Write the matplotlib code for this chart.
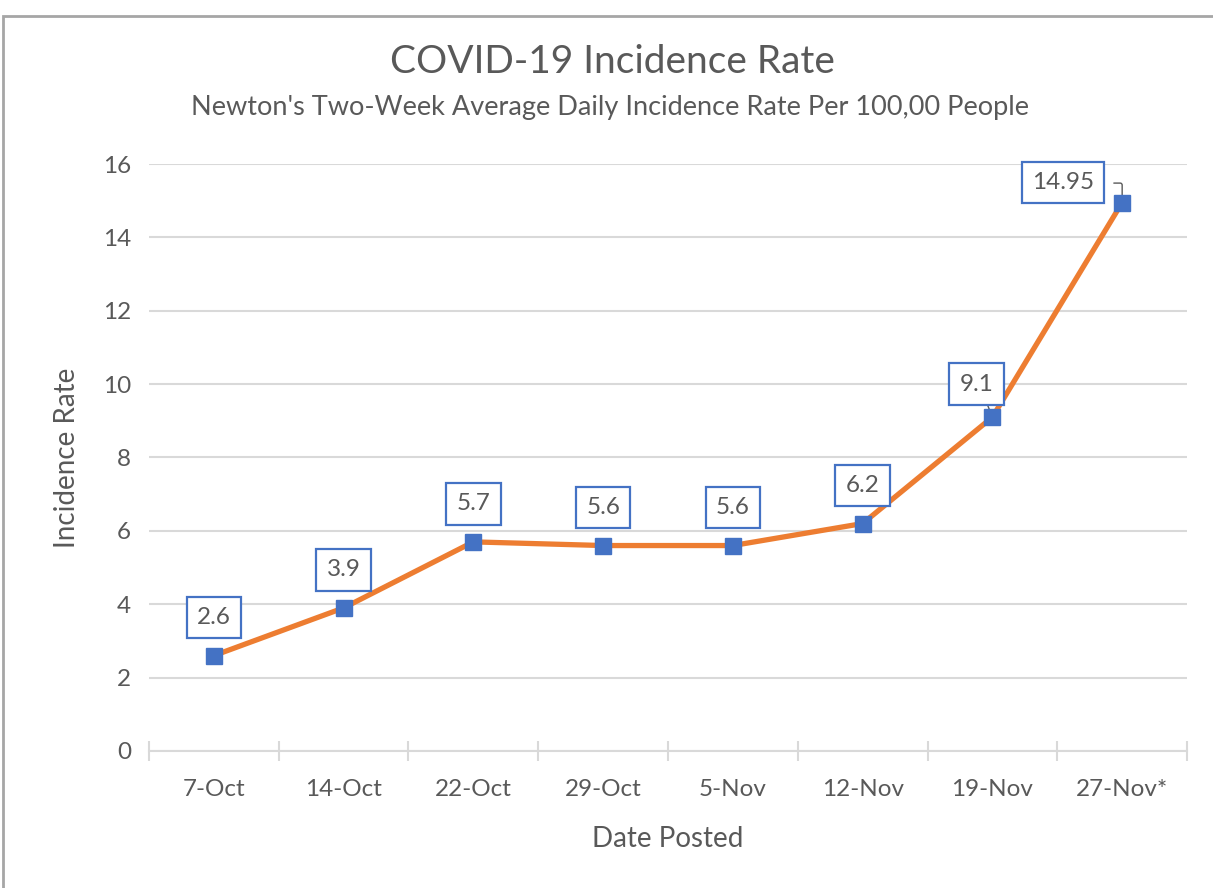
import numpy as np
import matplotlib.pyplot as plt
from matplotlib.patches import Rectangle

plt.rcParams['font.family'] = ['Lato', 'DejaVu Sans']

dates = ["7-Oct", "14-Oct", "22-Oct", "29-Oct", "5-Nov", "12-Nov", "19-Nov", "27-Nov*"]
rates = [2.6, 3.9, 5.7, 5.6, 5.6, 6.2, 9.1, 14.95]
labels = ["2.6", "3.9", "5.7", "5.6", "5.6", "6.2", "9.1", "14.95"]

grey = "#595959"
blue = "#4472C4"
orange = "#ED7D31"

fig = plt.figure(figsize=(12.13, 8.88), dpi=100)
ax = fig.add_axes([0.1228, 0.1543, 0.8558, 0.661])

x = np.arange(len(dates))
ax.plot(x, rates, color=orange, lw=3.8, solid_joinstyle='round', zorder=3)
ax.plot(x, rates, ls='none', marker='s', ms=11.5, color=blue, zorder=4)

# data labels (offset in px: the last two sit left of the point)
offs = [(0, 38), (0, 38), (0, 38), (0, 38), (0, 38), (0, 38), (-16, 33), (-59, 20)]
for xi, yi, lab, (dx, dy) in zip(x, rates, labels, offs):
    ax.annotate(lab, (xi, yi), xytext=(dx * 0.72, dy * 0.72), textcoords='offset points',
                ha='center', va='center', fontsize=17.5, color=grey, zorder=5,
                bbox=dict(boxstyle='square,pad=0.42', fc='white', ec=blue, lw=1.6))
# leader lines for the shifted labels
ax.annotate("", (x[6], rates[6]), xytext=(-4, 10), textcoords='offset points',
            arrowprops=dict(arrowstyle='-', color=grey, lw=1), zorder=3.5)
ax.annotate("", (x[7], rates[7]), xytext=(-8, 14), textcoords='offset points',
            arrowprops=dict(arrowstyle='-', color=grey, lw=1,
                            connectionstyle='angle,angleA=0,angleB=90,rad=2'), zorder=3.5)

ax.set_xlim(-0.5, len(dates) - 0.5)
ax.set_ylim(0, 16)
ax.set_yticks(range(0, 17, 2))
ax.yaxis.grid(True, color='#D9D9D9', lw=1.5)
ax.set_axisbelow(True)
for s in ['top', 'right', 'left']:
    ax.spines[s].set_visible(False)
ax.spines['bottom'].set_color('#D9D9D9')
ax.spines['bottom'].set_linewidth(1.5)

ax.set_xticks(x)
ax.set_xticklabels(dates)
ax.set_xticks(np.arange(-0.5, len(dates), 1), minor=True)
ax.tick_params(axis='x', which='major', length=0, pad=20, labelsize=17.5, labelcolor=grey)
ax.tick_params(axis='x', which='minor', length=14, direction='inout', color='#D9D9D9', width=1.5)
ax.tick_params(axis='y', length=0, pad=13, labelsize=17.5, labelcolor=grey)

ax.set_xlabel("Date Posted", fontsize=20, color=grey, labelpad=19)
ax.set_ylabel("Incidence Rate", fontsize=20, color=grey, labelpad=16)

fig.text(0.505, 0.93, "COVID-19 Incidence Rate", ha='center', va='center',
         fontsize=28, color=grey)
fig.text(0.503, 0.879, "Newton's Two-Week Average Daily Incidence Rate Per 100,00 People",
         ha='center', va='center', fontsize=19.5, color=grey)

fig.patches.append(Rectangle((3 / 1213, -0.1), 1.2, (880 - 8) / 888 + 0.1, transform=fig.transFigure,
                             fill=False, ec='#A6A6A6', lw=2))

fig.savefig("out.png", dpi=100)
